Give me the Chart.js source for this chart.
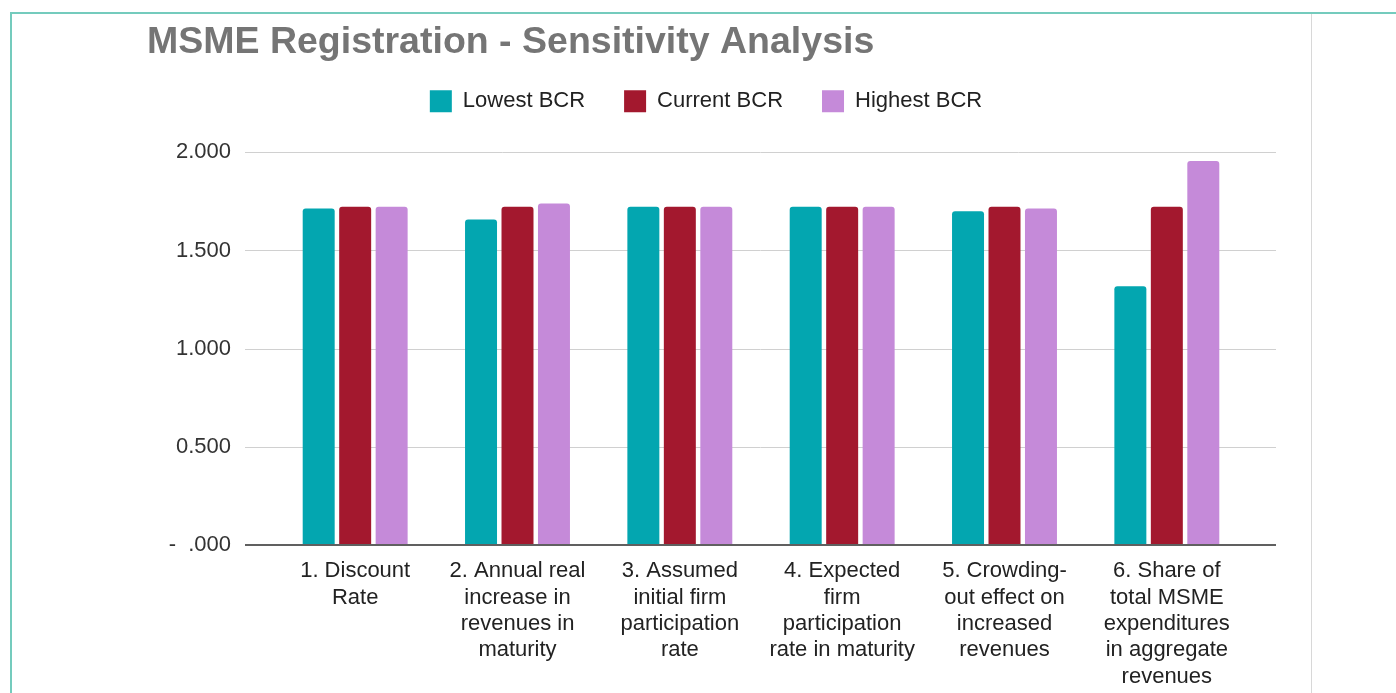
<!DOCTYPE html>
<html>
<head>
<meta charset="utf-8">
<script src="https://cdn.jsdelivr.net/npm/chart.js@4.4.1/dist/chart.umd.min.js"></script>
<style>
  html, body { margin: 0; padding: 0; background: #ffffff; overflow: hidden; }
  #frameTop { position: absolute; left: 10px; top: 12px; width: 1400px; height: 0; border-top: 2px solid #74cbbd; }
  #frameLeft { position: absolute; left: 10px; top: 12px; width: 0; height: 700px; border-left: 2px solid #74cbbd; }
  #sep { position: absolute; left: 1311px; top: 14px; width: 0; height: 700px; border-left: 1px solid #d8d8d8; }
  #c { position: absolute; left: 0; top: 0; }
</style>
</head>
<body>
<div id="frameTop"></div>
<div id="frameLeft"></div>
<div id="sep"></div>
<canvas id="c" width="1396" height="693"></canvas>
<script>
// ---- data ----
const categories = [
  ["1. Discount", "Rate"],
  ["2. Annual real", "increase in", "revenues in", "maturity"],
  ["3. Assumed", "initial firm", "participation", "rate"],
  ["4. Expected", "firm", "participation", "rate in maturity"],
  ["5. Crowding-", "out effect on", "increased", "revenues"],
  ["6. Share of", "total MSME", "expenditures", "in aggregate", "revenues"]
];
const seriesNames = ["Lowest BCR", "Current BCR", "Highest BCR"];
const lowestBCR  = [1.713, 1.657, 1.722, 1.722, 1.700, 1.318];
const currentBCR = [1.722, 1.722, 1.722, 1.722, 1.722, 1.722];
const highestBCR = [1.722, 1.739, 1.722, 1.722, 1.713, 1.956];
const yTickValues = [0, 0.5, 1, 1.5, 2];
const yTickLabels = ["-  .000", "0.500", "1.000", "1.500", "2.000"];
const titleText = "MSME Registration - Sensitivity Analysis";

const FONT = "'Liberation Sans', Arial, sans-serif";
const colors = ["#03a6b0", "#a3182e", "#c58ad9"];

const gridPlugin = {
  id: 'extendedGrid',
  afterInit(chart) {
    const lg = chart.legend;
    if (lg) {
      const origFit = lg.fit;
      lg.fit = function () { origFit.call(this); this.height += 30; };
    }
  },
  beforeDatasetsDraw(chart) {
    const ys = chart.scales.y, ca = chart.chartArea, ctx = chart.ctx;
    ctx.save();
    ctx.strokeStyle = '#d0d0d0';
    ctx.lineWidth = 1;
    ys.ticks.forEach(t => {
      if (t.value === 0) return;
      const p = Math.round(ys.getPixelForValue(t.value)) + 0.5;
      ctx.beginPath();
      ctx.moveTo(ca.left - 29, p);
      ctx.lineTo(ca.right + 28, p);
      ctx.stroke();
    });
    ctx.restore();
  },
  afterDatasetsDraw(chart) {
    const ys = chart.scales.y, ca = chart.chartArea, ctx = chart.ctx;
    ctx.save();
    ctx.strokeStyle = '#606060';
    ctx.lineWidth = 2;
    const p = Math.round(ys.getPixelForValue(0));
    ctx.beginPath();
    ctx.moveTo(ca.left - 29, p);
    ctx.lineTo(ca.right + 28, p);
    ctx.stroke();
    ctx.restore();
  }
};

const seriesData = [lowestBCR, currentBCR, highestBCR];

new Chart(document.getElementById('c'), {
  type: 'bar',
  data: {
    labels: categories,
    datasets: seriesNames.map((name, i) => ({
      label: name,
      data: seriesData[i],
      backgroundColor: colors[i],
      borderWidth: 0,
      borderRadius: { topLeft: 3, topRight: 3, bottomLeft: 0, bottomRight: 0 },
      borderSkipped: false,
      categoryPercentage: 0.674,
      barPercentage: 0.877
    }))
  },
  options: {
    responsive: false,
    animation: false,
    devicePixelRatio: 1,
    layout: { padding: { left: 147, right: 131, top: 0, bottom: 0 } },
    plugins: {
      title: {
        display: true,
        text: titleText,
        align: 'start',
        color: '#757575',
        font: { family: FONT, size: 37.5, weight: 'bold', lineHeight: 0.3 },
        padding: { top: 37, bottom: 3 }
      },
      legend: {
        display: true,
        position: 'top',
        align: 'center',
        labels: {
          color: '#222222',
          font: { family: FONT, size: 22 },
          boxWidth: 22,
          boxHeight: 22,
          padding: 39
        }
      },
      tooltip: { enabled: false }
    },
    scales: {
      x: {
        type: 'category',
        grid: { display: false, drawTicks: false },
        border: { display: false },
        ticks: {
          color: '#222222',
          font: { family: FONT, size: 22, lineHeight: 1.2 },
          padding: 13,
          maxRotation: 0,
          minRotation: 0,
          autoSkip: false
        },
        afterFit(s) { s.height = 148; }
      },
      y: {
        type: 'linear',
        position: 'left',
        min: 0,
        max: 2,
        grid: { display: false, drawTicks: false },
        border: { display: false },
        ticks: {
          stepSize: 0.5,
          color: '#333333',
          font: { family: FONT, size: 22 },
          padding: 43,
          callback: (v) => {
            const idx = yTickValues.indexOf(v);
            return idx >= 0 ? yTickLabels[idx] : '';
          }
        },
        afterFit(s) { s.width = 127; }
      },
      y2: {
        type: 'linear',
        position: 'right',
        display: true,
        min: 0,
        max: 2,
        grid: { display: false, drawTicks: false },
        border: { display: false },
        ticks: { display: false },
        afterFit(s) { s.width = 17; }
      }
    }
  },
  plugins: [gridPlugin]
});
</script>
</body>
</html>
